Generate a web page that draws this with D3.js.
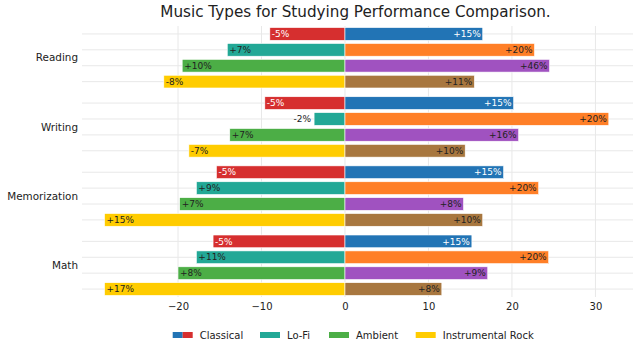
<!DOCTYPE html>
<html>
<head>
<meta charset="utf-8">
<script src="https://cdn.jsdelivr.net/npm/d3@7"></script>
<style>
  html, body { margin: 0; padding: 0; background: #fff; }
  svg { display: block; font-family: "DejaVu Sans", sans-serif; }
</style>
</head>
<body>
<svg id="chart" width="640" height="349"></svg>
<script>
// Tasks (groups) and music types (rows inside each group)
const tasks = ["Reading", "Writing", "Memorization", "Math"];
const musicTypes = ["Classical", "Lo-Fi", "Ambient", "Instrumental Rock"];

// Bar lengths, left side (negative) and right side (positive), per task
const leftScores = [
  [-9.0, -14.1, -19.5, -21.7],
  [-9.6, -3.7, -13.8, -18.7],
  [-15.4, -17.8, -19.8, -28.8],
  [-15.8, -17.8, -20.0, -28.8]
];
const rightScores = [
  [16.5, 22.7, 24.5, 15.5],
  [20.2, 31.6, 20.8, 14.4],
  [19.0, 23.2, 14.2, 16.5],
  [15.2, 24.4, 17.1, 11.6]
];

// Percentage annotations printed on the bars
const leftLabels = [
  ["-5%", "+7%", "+10%", "-8%"],
  ["-5%", "-2%", "+7%", "-7%"],
  ["-5%", "+9%", "+7%", "+15%"],
  ["-5%", "+11%", "+8%", "+17%"]
];
const rightLabels = [
  ["+15%", "+20%", "+46%", "+11%"],
  ["+15%", "+20%", "+16%", "+10%"],
  ["+15%", "+20%", "+8%", "+10%"],
  ["+15%", "+20%", "+9%", "+8%"]
];

const xTicks = [-20, -10, 0, 10, 20, 30];

const leftColors = ["#d62f2f", "#22a896", "#4cae46", "#ffcc00"];
const rightColors = ["#2274b5", "#ff7f27", "#a052c0", "#a8773f"];
const labelInk = ["#ffffff", "#222222", "#222222", "#222222"];

const svg = d3.select("#chart");
const plot = { left: 82, right: 633, top: 26, bottom: 297 };
const groupStep = 4.35;

const x = d3.scaleLinear().domain([-31.5, 34.5]).range([plot.left, plot.right]);
const y = d3.scaleLinear().domain([-0.5, 3 * groupStep + 3 + 0.5]).range([plot.top, plot.bottom]);
const barH = (y(0.8) - y(0));

const rows = [];
tasks.forEach((t, g) => {
  musicTypes.forEach((m, j) => {
    rows.push({
      g, j, task: t, type: m,
      pos: g * groupStep + j,
      left: leftScores[g][j], right: rightScores[g][j],
      lLabel: leftLabels[g][j], rLabel: rightLabels[g][j]
    });
  });
});

// Grid
const grid = svg.append("g");
grid.selectAll("line.v").data(xTicks).join("line")
  .attr("x1", d => x(d)).attr("x2", d => x(d))
  .attr("y1", plot.top).attr("y2", plot.bottom)
  .attr("stroke", "#e8e8e8").attr("stroke-width", 1);
grid.selectAll("line.h").data(rows).join("line")
  .attr("x1", plot.left).attr("x2", plot.right)
  .attr("y1", d => y(d.pos)).attr("y2", d => y(d.pos))
  .attr("stroke", "#e8e8e8").attr("stroke-width", 1);

// Bars
const bars = svg.append("g");
bars.selectAll("rect.l").data(rows).join("rect")
  .attr("x", d => x(d.left)).attr("width", d => x(0) - x(d.left))
  .attr("y", d => y(d.pos) - barH / 2).attr("height", barH)
  .attr("fill", d => leftColors[d.j])
  .attr("stroke", "#fff").attr("stroke-width", 0.6);
bars.selectAll("rect.r").data(rows).join("rect")
  .attr("x", x(0)).attr("width", d => x(d.right) - x(0))
  .attr("y", d => y(d.pos) - barH / 2).attr("height", barH)
  .attr("fill", d => rightColors[d.j])
  .attr("stroke", "#fff").attr("stroke-width", 0.6);

// Bar annotations; short left bars get their label just outside
const ann = svg.append("g").attr("font-size", 9);
ann.selectAll("text.l").data(rows).join("text")
  .each(function (d) {
    const w = x(0) - x(d.left);
    const inside = w > 45;
    d3.select(this)
      .attr("x", inside ? x(d.left) + 2 : x(d.left) - 3)
      .attr("text-anchor", inside ? "start" : "end")
      .attr("fill", inside ? labelInk[d.j] : "#222");
  })
  .attr("y", d => y(d.pos))
  .attr("dy", "0.35em")
  .text(d => d.lLabel);
ann.selectAll("text.r").data(rows).join("text")
  .attr("x", d => x(d.right) - 2)
  .attr("text-anchor", "end")
  .attr("fill", d => labelInk[d.j])
  .attr("y", d => y(d.pos))
  .attr("dy", "0.35em")
  .text(d => d.rLabel);

// Category labels
svg.append("g").attr("font-size", 10.4).attr("fill", "#222")
  .selectAll("text").data(tasks).join("text")
  .attr("x", plot.left - 4)
  .attr("y", (d, g) => y(g * groupStep + 1.5))
  .attr("dy", "0.35em")
  .attr("text-anchor", "end")
  .text(d => d);

// X axis (labels only)
const xAxis = d3.axisBottom(x).tickValues(xTicks).tickSize(0).tickPadding(6)
  .tickFormat(d => d3.format("d")(d).replace("-", "\u2212"));
const xg = svg.append("g").attr("transform", `translate(0,${plot.bottom})`).call(xAxis);
xg.select(".domain").remove();
xg.selectAll("text").attr("font-size", 10).attr("fill", "#222")
  .attr("font-family", "DejaVu Sans, sans-serif");

// Title
svg.append("text")
  .attr("x", (plot.left + plot.right) / 2 - 2).attr("y", 17)
  .attr("text-anchor", "middle").attr("font-size", 15.2).attr("fill", "#222")
  .text("Music Types for Studying Performance Comparison.");

// Legend
const legendX = [172.7, 260, 329, 415.7];
const leg = svg.append("g").attr("font-size", 10).attr("fill", "#222");
musicTypes.forEach((m, j) => {
  const gx = legendX[j];
  const item = leg.append("g").attr("transform", `translate(${gx},332)`);
  if (j === 0) {
    item.append("rect").attr("width", 10).attr("height", 6).attr("fill", rightColors[0]);
    item.append("rect").attr("x", 10).attr("width", 10).attr("height", 6).attr("fill", leftColors[0]);
  } else {
    item.append("rect").attr("width", 20).attr("height", 6).attr("fill", leftColors[j]);
  }
  item.append("text").attr("x", 27).attr("y", 3).attr("dy", "0.35em").text(m);
});
</script>
</body>
</html>
